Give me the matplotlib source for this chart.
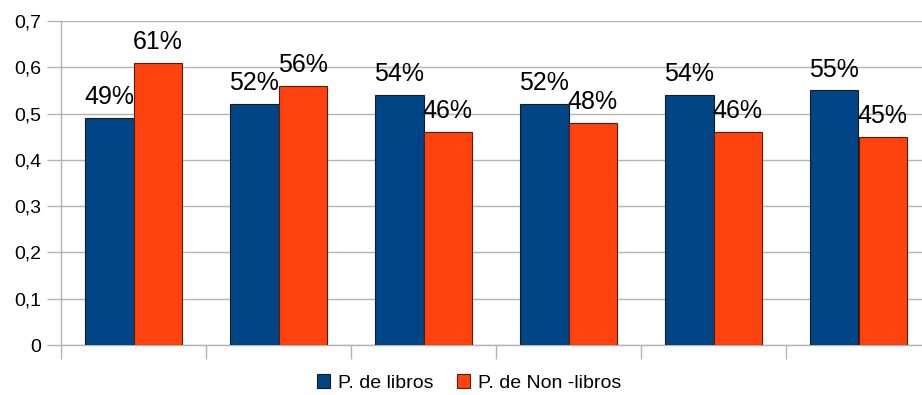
import matplotlib.pyplot as plt
import numpy as np
from matplotlib.ticker import FuncFormatter

plt.rcParams['font.family'] = ['Liberation Sans', 'DejaVu Sans']

groups = ['1', '2', '3', '4', '5', '6']
libros = [0.49, 0.52, 0.54, 0.52, 0.54, 0.55]
non_libros = [0.61, 0.56, 0.46, 0.48, 0.46, 0.45]
series_names = ['P. de libros', 'P. de Non -libros']

blue = '#004586'
orange = '#ff420e'
grid_gray = '#b3b3b3'

fig = plt.figure(figsize=(9.22, 3.95), dpi=100)
# last category runs past the right edge of the figure
ax = fig.add_axes([61/922, 50/395, 870/922, 324/395])

x = np.arange(len(groups))
w = 0.335
b1 = ax.bar(x - w/2, libros, w, color=blue, edgecolor='#1a1a1a', linewidth=0.8,
            label=series_names[0], zorder=3)
b2 = ax.bar(x + w/2, non_libros, w, color=orange, edgecolor='#5c1a08', linewidth=0.8,
            label=series_names[1], zorder=3)

for bars, vals in ((b1, libros), (b2, non_libros)):
    for r, v in zip(bars, vals):
        ax.annotate(f"{round(v*100)}%", (r.get_x() + r.get_width()/2, v),
                    xytext=(0, 10), textcoords='offset points',
                    ha='center', va='baseline', fontsize=18, zorder=4)

ax.set_xlim(-0.5, len(groups) - 0.5)
ax.set_ylim(0, 0.7)
ax.set_yticks(np.arange(0, 0.71, 0.1))
ax.yaxis.set_major_formatter(FuncFormatter(
    lambda v, p: '0' if abs(v) < 1e-9 else f"{v:.1f}".replace('.', ',')))
ax.set_xticks(np.arange(-0.5, len(groups), 1.0))
ax.set_xticklabels([])

ax.grid(axis='y', color=grid_gray, linewidth=1, zorder=0)
ax.tick_params(axis='both', color=grid_gray, length=10, width=1, labelsize=14)
ax.tick_params(axis='y', pad=4)
for s in ('top', 'right'):
    ax.spines[s].set_visible(False)
for s in ('left', 'bottom'):
    ax.spines[s].set_color(grid_gray)
    ax.spines[s].set_linewidth(1)

fig.legend(handles=[b1, b2], loc='center', bbox_to_anchor=(469/922, 1 - 383/395),
           ncol=2, frameon=False, fontsize=14, handlelength=0.7, handleheight=0.7,
           handletextpad=0.4, columnspacing=1.2)

fig.savefig('out.png', dpi=100)
